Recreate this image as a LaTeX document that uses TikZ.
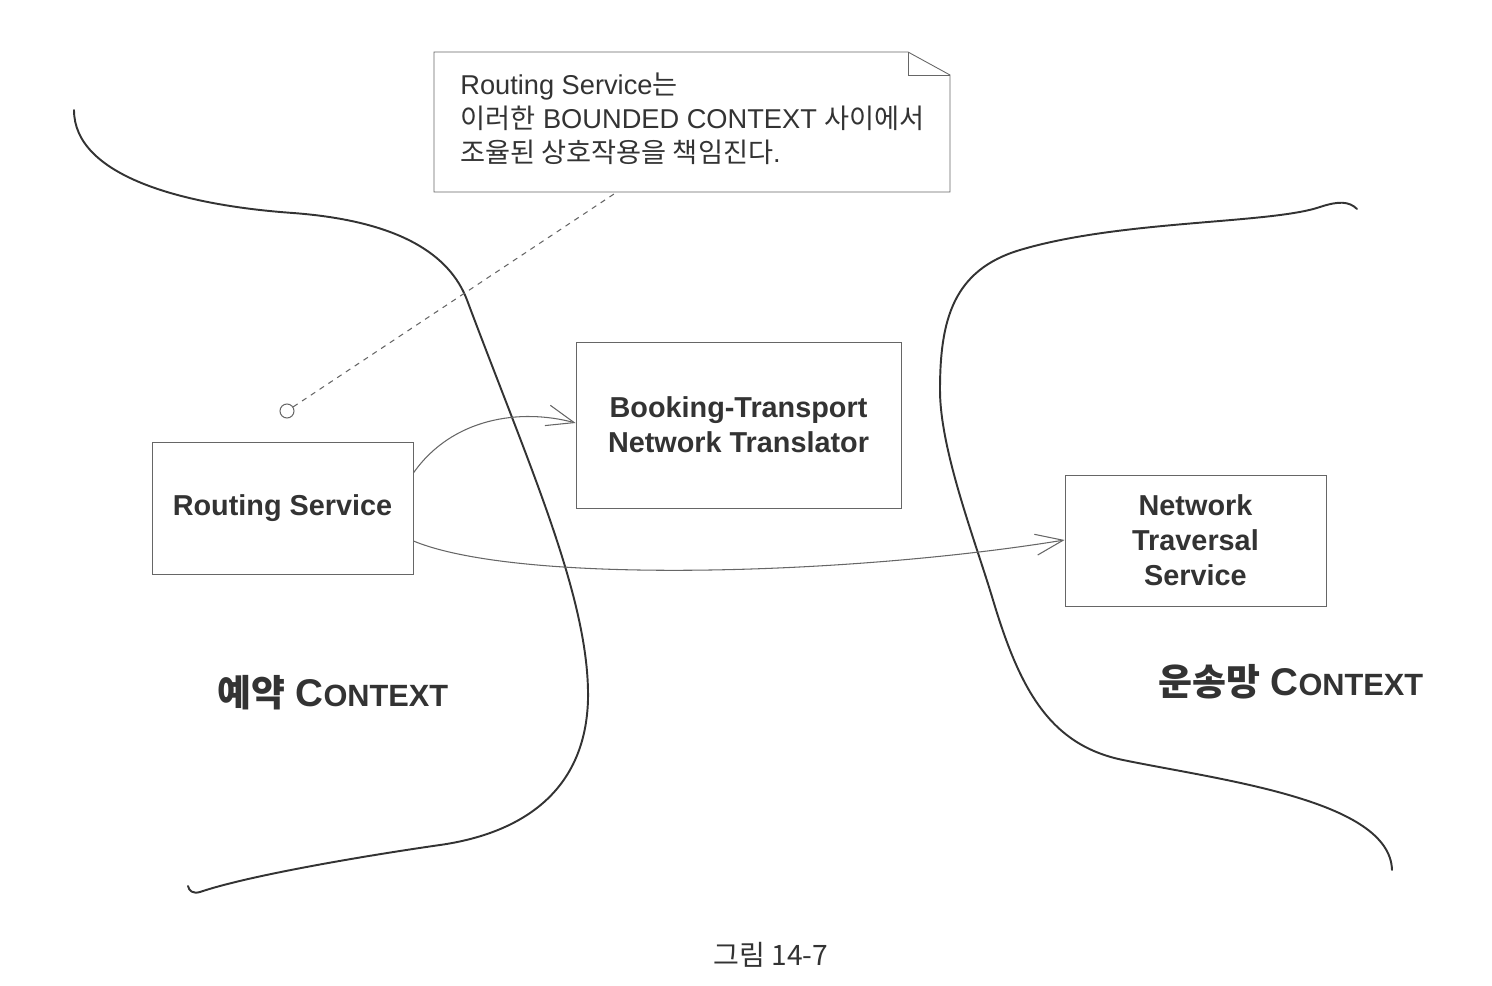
\documentclass[tikz,border=0pt]{standalone}
\usepackage{fontspec}
\setmainfont{Liberation Sans}
\newfontfamily\kr{Noto Sans CJK KR}
\usetikzlibrary{arrows.meta}

\definecolor{inkgray}{HTML}{333333}
\definecolor{linegray}{HTML}{666666}

\tikzset{
  svcbox/.style={draw=linegray, line width=0.5pt, text=inkgray, align=center,
    font=\fontsize{16.4}{20}\selectfont\bfseries, inner sep=0pt},
  flow/.style={draw=linegray, line width=0.6pt,
    -{Straight Barb[length=5.5mm,width=4.2mm,line width=0.6pt]}},
  border/.style={draw=inkgray, line width=1.1pt, line cap=round},
  ctxlabel/.style={text=inkgray, font=\bfseries, inner sep=0pt}
}

\newcommand{\ctx}{{\fontsize{22}{24}\selectfont C}{\fontsize{17.5}{24}\selectfont ONTEXT}}

\begin{document}
\begin{tikzpicture}[x=0.02cm, y=-0.02cm]
\useasboundingbox (0,0) rectangle (1492,986);
% context borders
\draw [border] (74,110) .. controls (74,175) and (180,205) .. (293,213)
  .. controls (400,221) and (450,255) .. (467,300)
  .. controls (530,468) and (590,600) .. (588,700)
  .. controls (585,800) and (510,835) .. (440,845)
  .. controls (370,855) and (250,875) .. (200,892)
  .. controls (193,894) and (189,891) .. (188,886);
\draw [border] (1357,209) .. controls (1349,201) and (1338,201) .. (1320,207)
  .. controls (1270,224) and (1120,220) .. (1020,250)
  .. controls (953,270) and (940,320) .. (940,390)
  .. controls (940,450) and (975,540) .. (993,600)
  .. controls (1020,690) and (1050,745) .. (1123,760)
  .. controls (1220,780) and (1390,800) .. (1392,870);

% services
\node [svcbox, minimum width=5.22cm, minimum height=2.64cm] (routing) at (282.5,508) {Routing Service};
\node [svcbox, minimum width=6.5cm, minimum height=3.32cm] (translator) at (738.5,425) {Booking-Transport\\Network Translator};
\node [svcbox, minimum width=5.22cm, minimum height=2.62cm] (traversal) at (1195.5,540.5) {Network\\Traversal\\Service};

% calls
\draw [flow] (routing.north east |- 0,473) .. controls (452,418) and (520,408) .. (translator.west |- 0,423);
\draw [flow] (routing.east |- 0,541) .. controls (520,585) and (850,575) .. (traversal.west |- 0,540);

% note
\coordinate (nw) at (434,52);
\coordinate (fold) at (908,52);
\coordinate (fe) at (950,75);
\coordinate (se) at (950,192);
\coordinate (sw) at (434,192);
\draw [linegray, line width=0.5pt, fill=white] (nw) -- (fold) -- (fe) -- (se) -- (sw) -- cycle;
\draw [linegray, line width=0.5pt] (fold) -- (fold |- fe) -- (fe);
\node [anchor=west, align=left, text=inkgray, inner sep=0pt,
  font=\fontsize{15.5}{19.4}\selectfont] (notetext) at (460,119)
  {Routing Service{\kr 는}\\{\kr 이러한} BOUNDED CONTEXT {\kr 사이에서}\\{\kr 조율된 상호작용을 책임진다}.};
\coordinate (notefoot) at (617,192);
\node [circle, draw=linegray, line width=0.6pt, minimum size=0.28cm, inner sep=0pt] (pin) at (287,411) {};
\draw [linegray, line width=0.6pt, dashed] (pin) -- (notefoot);

% labels
\node [ctxlabel] (booking) at (333,693) {{\kr\fontsize{21}{24}\selectfont 예약}\hspace{0.2cm}\ctx};
\node [ctxlabel] (network) at (1291,682) {{\kr\fontsize{21}{24}\selectfont 운송망}\hspace{0.2cm}\ctx};
\node [text=inkgray, inner sep=0pt, font=\kr\fontsize{16}{20}\selectfont] (caption) at (771,955) {그림 14-7};
\end{tikzpicture}
\end{document}
